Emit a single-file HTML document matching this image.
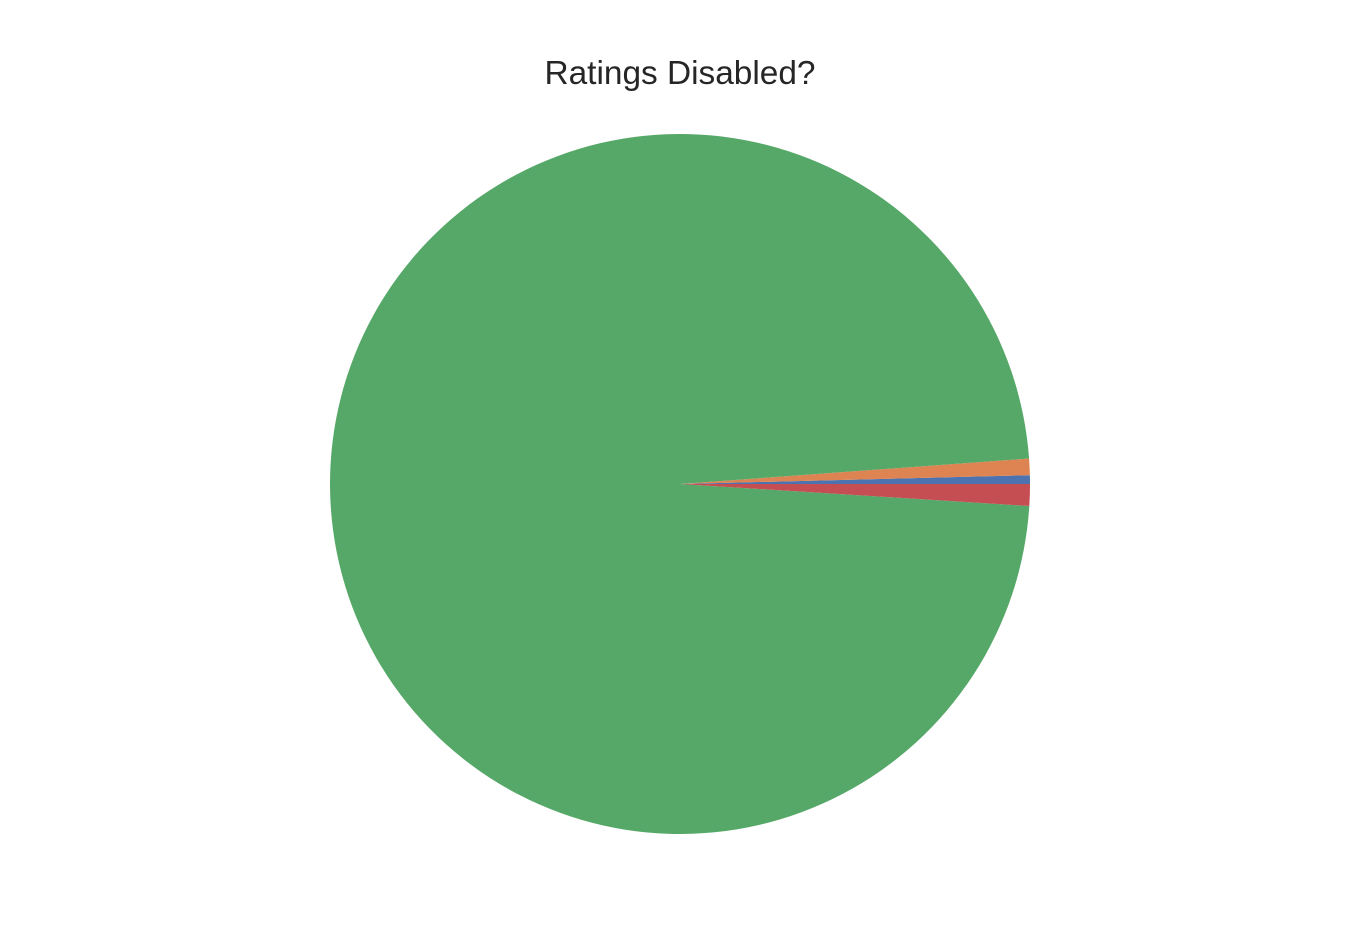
<!DOCTYPE html>
<html><head><meta charset="utf-8"><style>
body{margin:0;background:#fff;}
svg{display:block;font-family:"Liberation Sans",Arial,sans-serif;}
</style></head><body>
<svg id="chart" width="1360" height="930">
<text x="680" y="84" text-anchor="middle" font-size="33.4" fill="#262626">Ratings Disabled?</text>
<g id="slices"></g>
</svg>
<script>
const categories = ["A", "B", "C", "D"];
const values = [0.40, 0.76, 97.84, 1.00];
const colors = ["#4c72b0", "#dd8452", "#55a868", "#c44e52"];
const cx = 680, cy = 484, r = 350;
const g = document.getElementById('slices');
const total = values.reduce((a, b) => a + b, 0);
let start = 0;
values.forEach((v, i) => {
  const sweep = v / total * 2 * Math.PI;
  const end = start + sweep;
  const x1 = cx + r * Math.cos(start), y1 = cy - r * Math.sin(start);
  const x2 = cx + r * Math.cos(end), y2 = cy - r * Math.sin(end);
  const large = sweep > Math.PI ? 1 : 0;
  const p = document.createElementNS('http://www.w3.org/2000/svg', 'path');
  p.setAttribute('d', `M${cx},${cy} L${x1},${y1} A${r},${r} 0 ${large} 0 ${x2},${y2} Z`);
  p.setAttribute('fill', colors[i]);
  
  
  g.appendChild(p);
  start = end;
});
</script>
</body></html>
